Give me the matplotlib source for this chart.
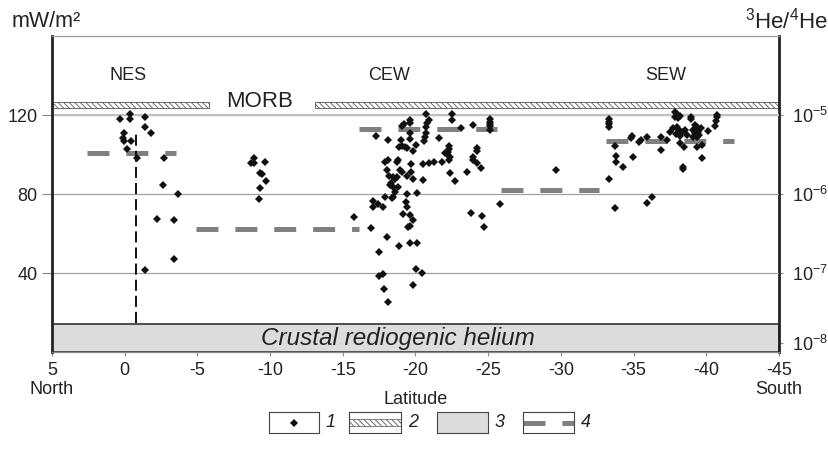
import numpy as np
import matplotlib.pyplot as plt
from matplotlib.ticker import NullLocator

plt.rcParams['font.family'] = ['Liberation Sans', 'DejaVu Sans']
plt.rcParams['mathtext.fontset'] = 'custom'
plt.rcParams['mathtext.rm'] = 'Liberation Sans'
plt.rcParams['mathtext.it'] = 'Liberation Sans:italic'
plt.rcParams['hatch.linewidth'] = 0.6
plt.rcParams['lines.scale_dashes'] = False

# heat flow points (latitude, mW/m2)
nes_lat = [0.34, -0.36, -0.36, -1.40, -1.40, -1.79, 0.05, 0.10, 0.03, -0.43,
           -0.18, -0.83, -2.68, -2.61, -3.69, -2.22, -3.37, -3.37, -1.40]
nes_hf = [117.8, 120.4, 118.1, 119.1, 114.1, 110.7, 111.0, 108.5, 107.0, 107.0,
          102.6, 98.1, 98.2, 84.4, 79.8, 67.2, 66.8, 47.2, 41.7]

mid_lat = [-8.67, -8.89, -8.89, -9.65, -9.31, -9.46, -9.70, -9.31, -9.26]
mid_hf = [95.8, 98.1, 95.8, 96.2, 90.8, 90.0, 86.6, 82.9, 77.3]

cew_lat = [-20.70, -22.51, -22.51, -19.62, -19.62, -19.21, -19.05, -20.91, -20.77, -20.72,
           -20.72, -20.68, -20.61, -23.98, -25.15, -25.15, -25.15, -25.15, -25.15, -23.13,
           -19.62, -17.28, -18.09, -19.00, -19.05, -18.87, -19.28, -19.39, -19.85, -19.62,
           -20.01, -21.59, -22.33, -22.33, -22.26, -22.19, -22.37, -22.33, -21.82, -21.30,
           -20.91, -20.49, -24.21, -24.21, -23.93, -23.98, -24.25, -24.51, -23.52, -22.72,
           -22.37, -20.54, -19.81, -19.67, -19.67, -19.39, -19.05, -18.93, -18.13, -18.70,
           -18.82, -17.90, -18.02, -18.20, -18.48, -18.70, -18.59, -18.32, -18.25, -18.43,
           -18.82, -18.59, -18.48, -18.36, -19.39, -20.08, -17.90, -17.10, -17.40, -17.10,
           -17.79, -19.35, -19.39, -19.12, -19.62, -19.81, -19.62, -19.51, -15.77, -16.92,
           -18.02, -18.87, -19.62, -20.08, -17.51, -20.03, -20.42, -17.51, -17.79, -17.86,
           -19.85, -18.13, -23.82, -24.57, -24.73, -25.81, -22.03]
cew_hf = [120.3, 120.3, 117.5, 117.5, 115.8, 115.3, 114.4, 117.5, 115.8, 113.8,
          111.1, 108.7, 107.0, 114.8, 117.8, 116.6, 115.4, 114.4, 112.4, 113.2,
          111.1, 109.5, 107.3, 107.3, 104.3, 104.0, 104.0, 103.1, 101.8, 107.8,
          104.8, 108.2, 104.3, 102.6, 101.4, 100.3, 98.9, 97.2, 96.4, 96.4,
          95.5, 95.0, 103.1, 101.9, 98.9, 97.2, 95.9, 93.3, 91.3, 86.6,
          90.5, 87.1, 87.4, 95.2, 91.3, 89.1, 91.3, 92.2, 97.2, 96.4,
          97.2, 96.4, 92.2, 89.1, 88.8, 88.4, 87.4, 85.7, 84.6, 83.4,
          83.4, 81.2, 78.7, 77.8, 80.0, 80.3, 78.7, 76.6, 74.8, 73.2,
          73.6, 76.1, 73.6, 69.7, 69.4, 66.8, 63.8, 63.1, 68.2, 63.0,
          58.1, 53.8, 55.0, 55.0, 50.5, 41.9, 40.2, 38.7, 39.3, 31.9,
          33.9, 25.2, 70.6, 69.0, 63.5, 74.8, 100.6]

sew_lat = [-33.33, -33.33, -33.33, -33.33, -33.72, -33.79, -33.79, -34.24, -33.28, -33.72,
           -34.86, -34.79, -34.93, -35.39, -35.48, -35.89, -36.86, -36.86, -37.32, -35.89,
           -36.24, -37.84, -37.96, -37.84, -38.07, -38.19, -38.92, -38.92, -40.71, -40.71,
           -40.66, -40.59, -40.14, -37.50, -37.73, -37.96, -38.07, -38.30, -38.53, -38.19,
           -38.46, -38.42, -38.42, -39.22, -39.33, -39.10, -39.22, -39.45, -39.61, -39.52,
           -39.33, -39.68, -39.70, -39.10, -39.38, -37.90, -38.20, -38.70, -29.66]
sew_hf = [117.8, 116.6, 115.4, 114.1, 104.3, 99.2, 96.2, 93.5, 87.4, 72.7,
          109.4, 108.2, 98.9, 106.5, 107.3, 109.0, 109.0, 102.3, 107.3, 75.6,
          78.3, 121.7, 120.5, 119.2, 118.3, 119.5, 119.2, 117.8, 120.0, 118.8,
          117.1, 114.4, 112.1, 111.6, 113.3, 114.1, 112.7, 111.6, 112.4, 106.0,
          104.0, 93.5, 92.5, 114.9, 114.1, 112.4, 110.7, 111.6, 113.2, 109.9,
          104.0, 104.8, 98.4, 109.0, 109.0, 110.5, 109.5, 110.0, 92.0]

# 3He/4He averages per segment
seg_start = [2.6, -4.9, -16.1, -25.9, -33.1]
seg_end = [-3.5, -16.1, -25.6, -32.6, -41.9]
seg_ratio = [3.27e-6, 3.65e-7, 6.72e-6, 1.12e-6, 4.73e-6]

morb_lo, morb_hi = 1.22e-5, 1.45e-5
morb_parts = [(5, -5.8), (-13.1, -45)]
crust_lo, crust_hi = 1e-8, 2.24e-8

xticks = [5, 0, -5, -10, -15, -20, -25, -30, -35, -40, -45]
xlabels = ['5\nNorth', '0', '-5', '-10', '-15', '-20', '-25', '-30', '-35', '-40', '-45\nSouth']

fig = plt.figure(figsize=(8.29, 4.49), dpi=100)
ax = fig.add_axes([0.0627, 0.216, 0.877, 0.7038])
tw = ax.twinx()
ax.set_zorder(tw.get_zorder() + 1)
ax.patch.set_visible(False)

ax.set_xlim(5, -45)
ax.set_ylim(0, 160)
tw.set_yscale('log')
tw.set_ylim(1e-8, 1e-4)

# bands on ratio axis
for a, b in morb_parts:
    tw.fill_between([a, b], morb_lo, morb_hi, facecolor='white', edgecolor='#555555',
                    hatch='\\\\\\\\\\\\', linewidth=0.6)
tw.axhspan(crust_lo, crust_hi, facecolor='#dcdcdc', edgecolor='#333333', linewidth=1.2)

for a, b, r in zip(seg_start, seg_end, seg_ratio):
    tw.plot([a, b], [r, r], color='#808080', lw=3.6, dashes=(15.8, 12.2), solid_capstyle='butt',
            dash_capstyle='butt')

# grid and points
ax.set_yticks([40, 80, 120])
ax.set_yticklabels(['40', '80', '120'])
ax.yaxis.grid(True, color='#a0a0a0', lw=0.9)
ax.axhline(120, color='#c0c0c0', lw=1.6)
ax.plot([-0.75, -0.75], [14.5, 110.5], color='black', lw=1.3, dashes=(8, 3.6))

for la, hf in [(nes_lat, nes_hf), (mid_lat, mid_hf), (cew_lat, cew_hf), (sew_lat, sew_hf)]:
    ax.plot(la, hf, 'D', color='#111111', ms=3.6, mew=0, ls='none')

ax.text(-0.23, 140, 'NES', fontsize=13, ha='center', va='center', color='#222222')
ax.text(-18.2, 140, 'CEW', fontsize=13, ha='center', va='center', color='#222222')
ax.text(-37.2, 140, 'SEW', fontsize=13, ha='center', va='center', color='#222222')
ax.text(-9.3, 126.8, 'MORB', fontsize=16, ha='center', va='center', color='#222222')
ax.text(-18.8, 7, 'Crustal rediogenic helium', fontsize=17.5, style='italic',
        ha='center', va='center', color='#222222')

ax.set_xticks(xticks)
ax.set_xticklabels(xlabels)
ax.tick_params(axis='x', length=3, color='#888888', labelsize=13, pad=4, labelcolor='#222222')
ax.tick_params(axis='y', length=7, color='#888888', labelsize=13, labelcolor='#222222')
ax.set_xlabel('Latitude', fontsize=13, color='#222222', labelpad=-5)

tw.yaxis.set_minor_locator(NullLocator())
tw.set_yticks([1e-5, 1e-6, 1e-7, 1.3e-8])
tw.set_yticklabels([r'$10^{-5}$', r'$10^{-6}$', r'$10^{-7}$', r'$10^{-8}$'])
tw.tick_params(axis='y', length=3, color='#888888', labelsize=13, labelcolor='#222222', pad=6)

ax.spines['left'].set_linewidth(2)
ax.spines['left'].set_color('#222222')
ax.spines['right'].set_visible(False)
ax.spines['top'].set_color('#999999')
ax.spines['top'].set_linewidth(0.9)
ax.spines['bottom'].set_color('#888888')
ax.spines['bottom'].set_linewidth(0.9)
for s in ['left', 'top', 'bottom']:
    tw.spines[s].set_visible(False)
tw.spines['right'].set_linewidth(2)
tw.spines['right'].set_color('#222222')

fig.text(0.014, 0.952, 'mW/m²', fontsize=15.5, ha='left', va='center', color='#222222')
fig.text(0.999, 0.955, r'$^{3}$He/$^{4}$He', fontsize=16, ha='right', va='center', color='#222222')

# legend boxes
W, H = 829, 449
boxes = [(269, 319), (349, 401), (437, 488), (523, 574)]
y0, y1 = 412, 433
for i, (bx0, bx1) in enumerate(boxes):
    lax = fig.add_axes([bx0 / W, (H - y1) / H, (bx1 - bx0) / W, (y1 - y0) / H])
    lax.set_xlim(0, 1)
    lax.set_ylim(0, 1)
    lax.set_xticks([])
    lax.set_yticks([])
    for s in lax.spines.values():
        s.set_color('#444444')
        s.set_linewidth(0.8)
    if i == 0:
        lax.plot([0.5], [0.5], 'D', color='#111111', ms=3.6, mew=0)
    elif i == 1:
        lax.fill_between([0, 1], 0.33, 0.67, facecolor='white', edgecolor='#555555',
                         hatch='\\\\\\\\\\\\', linewidth=0.5)
    elif i == 2:
        lax.set_facecolor('#dcdcdc')
    else:
        lax.plot([0, 1], [0.5, 0.5], color='#808080', lw=3.6, dashes=(15.8, 12.2))
    fig.text((bx1 + 12) / W, (H - (y0 + y1) / 2) / H, str(i + 1), fontsize=13,
             style='italic', ha='center', va='center', color='#222222')

fig.savefig('out.png', dpi=100)
